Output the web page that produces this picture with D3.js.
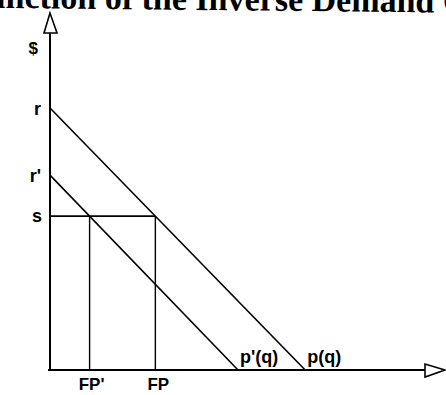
<!DOCTYPE html>
<html>
<head>
<meta charset="utf-8">
<script src="https://cdn.jsdelivr.net/npm/d3@7"></script>
<style>
  html, body { margin: 0; padding: 0; background: #fff; }
  svg { display: block; }
</style>
</head>
<body>
<script>
// Quantity / price values (arbitrary units, 0–100 on each axis)
const axisMax = [100, 100];               // [q, $]
const intercepts = [73.4, 54.6];          // price intercepts r, r'
const quantityEnds = [64.6, 47.6];        // quantity intercepts of p(q), p'(q)
const curveNames = ["p(q)", "p'(q)"];
const interceptLabels = ["r", "r'"];
const priceS = 43.1;                      // price level s
const fpLabels = ["FP", "FP'"];
const titleText = "Function of the Inverse Demand Curve";

const W = 446, H = 395;
const svg = d3.select("body").append("svg").attr("width", W).attr("height", H);

const x = d3.scaleLinear().domain([0, axisMax[0]]).range([50, 445]);
const y = d3.scaleLinear().domain([0, axisMax[1]]).range([370, 13]);

// title, partly cut off by the top edge
const titleFont = "'Liberation Serif', 'Times New Roman', serif";
const title = svg.append("text")
  .attr("font-family", titleFont)
  .attr("font-weight", "bold")
  .attr("font-size", 34)
  .attr("fill", "#000")
  .attr("transform", "rotate(0.6 300 11)")
  .attr("y", 11)
  .text(titleText);
// place the title so "Demand" starts at x≈303
const pre = svg.append("text").attr("font-family", titleFont)
  .attr("font-weight", "bold").attr("font-size", 34).text("Function of the Inverse ");
const preW = pre.node().getComputedTextLength();
pre.remove();
title.attr("x", 303 - preW);

// axes with hollow arrowheads
const g = svg.append("g").attr("stroke", "#000").attr("fill", "none");
g.append("line")
  .attr("x1", x(0)).attr("y1", y(0)).attr("x2", x(0)).attr("y2", y(axisMax[1]) + 20)
  .attr("stroke-width", 2);
g.append("path")
  .attr("d", `M${x(0)},${y(axisMax[1])} L${x(0) - 6},${y(axisMax[1]) + 20} L${x(0) + 7},${y(axisMax[1]) + 20} Z`)
  .attr("fill", "#fff").attr("stroke-width", 1.6);
g.append("line")
  .attr("x1", x(0) - 2).attr("y1", y(0)).attr("x2", x(axisMax[0]) - 20).attr("y2", y(0))
  .attr("stroke-width", 2);
g.append("path")
  .attr("d", `M${x(axisMax[0])},${y(0)} L${x(axisMax[0]) - 20},${y(0) - 6} L${x(axisMax[0]) - 20},${y(0) + 7} Z`)
  .attr("fill", "#fff").attr("stroke-width", 1.6);

// demand curves
const line = d3.line().x(d => x(d[0])).y(d => y(d[1]));
intercepts.forEach((r, i) => {
  g.append("path")
    .attr("d", line([[0, r], [quantityEnds[i], 0]]))
    .attr("stroke-width", 1.6);
});

// quantity where each curve reaches price s
const fp = intercepts.map((r, i) => quantityEnds[i] * (1 - priceS / r));

// horizontal line at s out to FP, and verticals down from each FP
g.append("path").attr("d", line([[0, priceS], [fp[0], priceS]])).attr("stroke-width", 1.6);
fp.forEach(q => {
  g.append("path").attr("d", line([[q, priceS], [q, 0]])).attr("stroke-width", 1.4);
});

// labels
const lab = svg.append("g")
  .attr("font-family", "'Liberation Sans', Arial, sans-serif")
  .attr("font-weight", "bold")
  .attr("fill", "#000");
lab.append("text").attr("x", x(0) - 12).attr("y", 54).attr("text-anchor", "end")
  .attr("font-size", 17).text("$");
intercepts.forEach((r, i) => {
  lab.append("text").attr("x", x(0) - 9).attr("y", y(r) + 7).attr("text-anchor", "end")
    .attr("font-size", 18).text(interceptLabels[i]);
});
lab.append("text").attr("x", x(0) - 8).attr("y", y(priceS) + 6).attr("text-anchor", "end")
  .attr("font-size", 18).text("s");
fp.forEach((q, i) => {
  lab.append("text").attr("x", x(q) + (i ? 2 : 3)).attr("y", 390).attr("text-anchor", "middle")
    .attr("font-size", 17).text(fpLabels[i]);
});
quantityEnds.forEach((q, i) => {
  lab.append("text").attr("x", x(q) + 2).attr("y", y(0) - 7)
    .attr("font-size", 18).text(curveNames[i]);
});
</script>
</body>
</html>
